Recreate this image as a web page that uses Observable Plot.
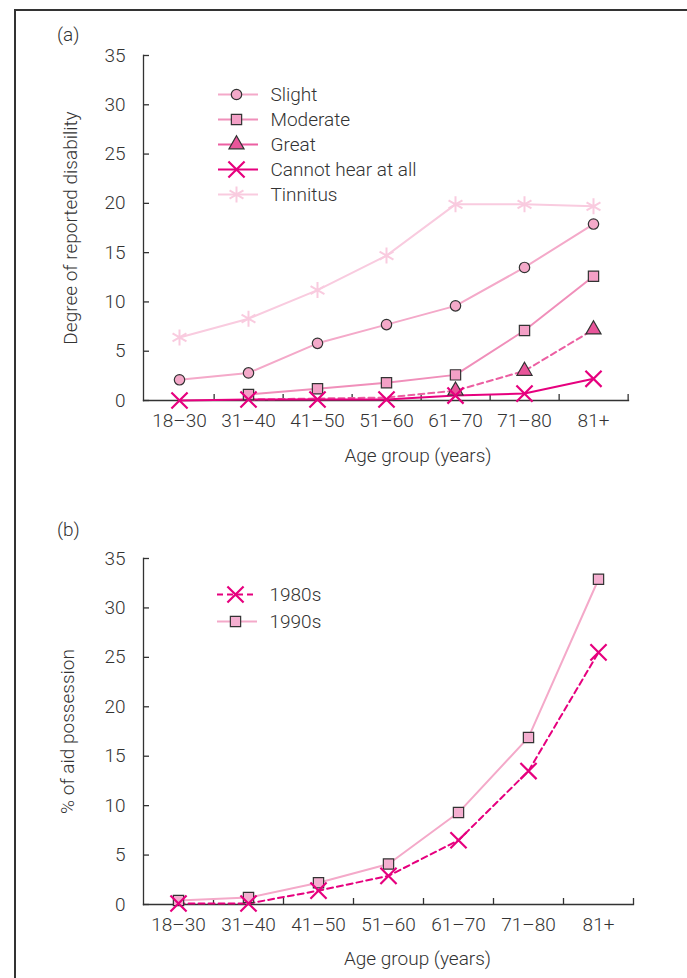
<!DOCTYPE html>
<html><head><meta charset="utf-8">
<script src="https://cdn.jsdelivr.net/npm/d3@7"></script>
<script src="https://cdn.jsdelivr.net/npm/@observablehq/plot@0.6"></script>
<style>
body{margin:0;background:#fff;}
#wrap{position:relative;width:687px;height:978px;overflow:hidden;font-family:Roboto,sans-serif;font-weight:300;color:#333;background:#fff;}
#frame{position:absolute;left:14px;top:9px;width:700px;height:1000px;border-top:2px solid #333;border-left:2px solid #333;}
.panel{position:absolute;left:57px;font-size:19px;line-height:22px;}
.abs{position:absolute;left:0;}
svg{overflow:visible;}
</style></head><body>
<div id="wrap">
<div id="frame"></div>
<div class="panel" style="top:24px">(a)</div>
<div class="panel" style="top:519px">(b)</div>
<div id="chartA" class="abs" style="top:0"></div>
<div id="chartB" class="abs" style="top:490px"></div>
<div id="legA" class="abs" style="left:218px;top:80px"></div>
<div id="legB" class="abs" style="left:217px;top:582px"></div>
</div>
<script>
// ---- data ----
const ageGroups = ["18–30","31–40","41–50","51–60","61–70","71–80","81+"];
const yTicks = [0,5,10,15,20,25,30,35];
// panel (a): degree of reported disability
const slight     = [2.1, 2.8, 5.8, 7.7, 9.6, 13.5, 17.9];
const moderate   = [null, 0.6, 1.2, 1.8, 2.6, 7.1, 12.6];
const great      = [null, 0.1, 0.2, 0.3, 1.0, 3.0, 7.2];
const greatMarkers = [false, false, false, false, true, true, true];
const cannotHear = [0, 0.1, 0.1, 0.1, 0.5, 0.7, 2.2];
const tinnitus   = [6.4, 8.3, 11.2, 14.7, 19.9, 19.9, 19.7];
// panel (b): % of aid possession
const aid1980s = [0.1, 0.1, 1.4, 2.9, 6.5, 13.5, 25.5];
const aid1990s = [0.4, 0.7, 2.2, 4.1, 9.3, 16.9, 32.9];
const seriesNamesA = ["Slight","Moderate","Great","Cannot hear at all","Tinnitus"];
const seriesNamesB = ["1980s","1990s"];

// ---- styles ----
const INK = "#333";
const FS = 19;
const stylesA = {
  "Tinnitus":           {values: tinnitus,   line:"#f9cbdf", symbol:"asterisk", fill:"none", stroke:"#f9cbdf", r:7.6, sw:2},
  "Slight":             {values: slight,     line:"#f4a9c9", symbol:"circle",   fill:"#f4a9c9", stroke:INK, r:5.2, sw:1.2},
  "Moderate":           {values: moderate,   line:"#f08fba", symbol:"square",   fill:"#f3a0c6", stroke:INK, r:5.8, sw:1.2},
  "Great":              {values: great,      line:"#ec5fa2", symbol:"triangle", fill:"#e8559a", stroke:INK, r:5.6, sw:1.2, dash:"6,4", legendDash:null, mark: greatMarkers},
  "Cannot hear at all": {values: cannotHear, line:"#e6007e", symbol:"times",    fill:"none", stroke:"#e6007e", r:7.4, sw:2.2}
};
const stylesB = {
  "1980s": {values: aid1980s, line:"#e6007e", symbol:"times",  fill:"none", stroke:"#e6007e", r:7.4, sw:2.2, dash:"6,4"},
  "1990s": {values: aid1990s, line:"#f4a9c9", symbol:"square", fill:"#f4afd0", stroke:INK, r:5.8, sw:1.2}
};
const W = 687;
const FONT = {fontFamily:"Roboto, sans-serif", fontWeight:300, fontSize:FS+"px", color:INK, background:"transparent", overflow:"visible"};

function rows(values){ return ageGroups.map((g,i)=>({age:g, value:values[i], i})).filter(d=>d.value!=null); }

function chart({styles, drawOrder, H, mt, mb, ml, mr, xLabel, yLabel, xLabelDx, xLabelDy, yLabelDx}){
  const step = (W-ml-mr)/ageGroups.length;
  const marks = [
    Plot.frame({anchor:"left", stroke:INK, strokeWidth:1.3}),
    Plot.frame({anchor:"bottom", stroke:INK, strokeWidth:1.3}),
    Plot.axisY({ticks:yTicks, tickSize:6, dx:6, tickFormat:()=> "", label:null, stroke:INK, strokeWidth:1.3}),
    Plot.axisY({ticks:yTicks, tickSize:0, tickPadding:18, label:null, fontSize:FS}),
    Plot.axisX({tickSize:6, dx:step/2, dy:-6, tickFormat:()=> "", label:null, stroke:INK, strokeWidth:1.3}),
    Plot.axisX({tickSize:0, tickPadding:13, label:null, fontSize:FS}),
    Plot.text([xLabel], {frameAnchor:"bottom", textAnchor:"middle", lineAnchor:"middle", dx:xLabelDx, dy:xLabelDy, fontSize:FS, fill:INK}),
    Plot.text([yLabel], {frameAnchor:"left", textAnchor:"middle", lineAnchor:"middle", rotate:-90, dx:yLabelDx, fontSize:FS, fill:INK})
  ];
  for (const name of drawOrder){
    const s = styles[name];
    marks.push(Plot.line(rows(s.values), {x:"age", y:"value", stroke:s.line, strokeWidth:2, strokeDasharray:s.dash}));
  }
  for (const name of drawOrder){
    const s = styles[name];
    let data = rows(s.values);
    if (s.mark) data = data.filter(d=>s.mark[d.i]);
    marks.push(Plot.dot(data, {x:"age", y:"value", symbol:s.symbol, r:s.r, fill:s.fill, stroke:s.stroke, strokeWidth:s.sw}));
  }
  return Plot.plot({
    width:W, height:H, marginTop:mt, marginBottom:mb, marginLeft:ml, marginRight:mr,
    style:FONT,
    x:{type:"point", domain:ageGroups, padding:0.5, axis:null},
    y:{domain:[0,35], axis:null},
    marks
  });
}

function legend({styles, names, H, mt, mb}){
  return Plot.plot({
    width:240, height:H, marginTop:mt, marginBottom:mb, marginLeft:0, marginRight:200,
    style:FONT,
    x:{domain:[0,1], axis:null},
    y:{type:"point", domain:names, padding:0, axis:null},
    marks:[
      ...names.map(n=>Plot.ruleY([n], {x1:0, x2:1, stroke:styles[n].line, strokeWidth:2,
        strokeDasharray: ("legendDash" in styles[n]) ? styles[n].legendDash : styles[n].dash})),
      ...names.map(n=>Plot.dot([n], {x:0.45, y:d=>d, symbol:styles[n].symbol, r:styles[n].r, fill:styles[n].fill, stroke:styles[n].stroke, strokeWidth:styles[n].sw})),
      Plot.text(names, {x:1, y:d=>d, text:d=>d, dx:12, textAnchor:"start", fontSize:FS, fill:INK})
    ]
  });
}

document.getElementById("chartA").append(chart({
  styles:stylesA, drawOrder:["Tinnitus","Slight","Moderate","Great","Cannot hear at all"],
  H:470, mt:55, mb:70, ml:143, mr:59,
  xLabel:"Age group (years)", yLabel:"Degree of reported disability",
  xLabelDx:32, xLabelDy:55, yLabelDx:-73
}));
document.getElementById("chartB").append(chart({
  styles:stylesB, drawOrder:["1990s","1980s"],
  H:488, mt:68, mb:74, ml:143, mr:54,
  xLabel:"Age group (years)", yLabel:"% of aid possession",
  xLabelDx:29, xLabelDy:54, yLabelDx:-76
}));
document.getElementById("legA").append(legend({styles:stylesA, names:seriesNamesA, H:127, mt:12, mb:12}));
document.getElementById("legB").append(legend({styles:stylesB, names:seriesNamesB, H:51, mt:12, mb:12}));
</script>
</body></html>
